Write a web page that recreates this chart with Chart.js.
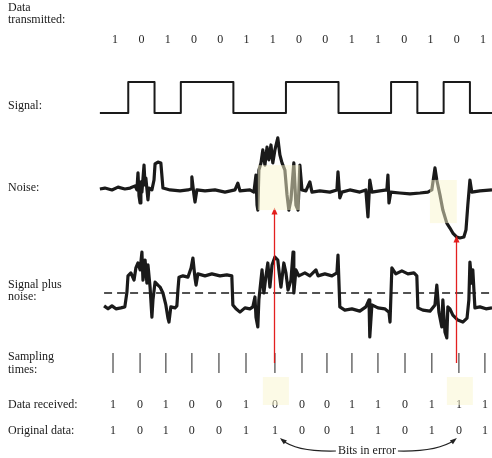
<!DOCTYPE html>
<html>
<head>
<meta charset="utf-8">
<script src="https://cdn.jsdelivr.net/npm/chart.js@4.4.0/dist/chart.umd.min.js"></script>
<style>
  body { margin: 0; background: #fff; }
  canvas { display: block; }
</style>
</head>
<body>
<canvas id="noise-chart" width="492" height="458"></canvas>
<script>
// time is measured in bit periods, bit k runs from k to k+1
const tView = [-3.88, 14.84]
const tStart = -0.08
const dataTransmitted = [1,0,1,0,0,1,1,0,0,1,1,0,1,0,1]
const signalLevels = [0,1,0,1,1,0,0,1,1,0,0,1,0,1,0]
const noise = [
  [-0.08,0],[0.11,0.03],[0.38,-0.03],[0.61,0.06],[0.87,0],[1.07,0.03],[1.26,0.10],[1.33,-0.03],
  [1.37,0.52],[1.41,-0.23],[1.45,-0.45],[1.48,0.23],[1.52,-0.10],[1.60,0.77],[1.64,0.13],[1.67,0.35],
  [1.75,-0.35],[1.79,0.03],[1.90,-0.03],[1.98,0.29],[2.02,0.81],[2.13,0.87],[2.24,0.84],[2.32,0.03],
  [2.59,-0.03],[2.97,-0.06],[3.27,-0.03],[3.39,0],[3.42,0.39],[3.50,-0.19],[3.54,-0.42],[3.61,-0.03],
  [3.92,-0.06],[4.30,-0.03],[4.68,-0.10],[5.06,-0.03],[5.17,0.19],[5.25,-0.06],[5.63,-0.03],[5.78,-0.10],
  [5.86,0.45],[5.90,-0.52],[5.93,-0.68],[5.97,0.61],[6.05,0.84],[6.12,1.26],[6.20,0.77],[6.28,1.35],
  [6.35,0.94],[6.43,1.42],[6.50,0.84],[6.58,1.26],[6.69,1.65],[6.77,1.10],[6.85,0.84],[6.96,0.61],
  [7.04,-0.19],[7.11,-0.68],[7.19,-0.35],[7.30,0.84],[7.38,-0.52],[7.46,-0.68],[7.53,0.77],[7.61,-0.03],
  [7.76,-0.06],[7.91,0.23],[7.99,-0.10],[8.29,-0.06],[8.67,-0.10],[8.94,-0.03],[8.98,0.55],[9.05,-0.29],
  [9.13,-0.10],[9.43,-0.03],[9.81,-0.10],[10.04,-0.03],[10.12,-0.90],[10.19,0.29],[10.27,-0.10],[10.57,-0.06],
  [10.84,-0.03],[10.88,0.45],[10.92,-0.45],[10.99,-0.10],[11.33,-0.13],[11.72,-0.16],[12.10,-0.13],[12.40,-0.10],
  [12.55,-0.03],[12.67,0.68],[12.74,0.29],[12.86,-0.19],[12.97,-0.68],[13.12,-1.10],[13.24,-1.26],[13.35,-1.42],
  [13.50,-1.55],[13.62,-1.58],[13.77,-1.55],[13.85,-1.32],[13.92,-0.52],[14.00,0.29],[14.07,-0.10],[14.38,-0.06],
  [14.84,-0.03]
]
const signalPlusNoise = [
  [0.08,0.11],[0.23,0.02],[0.38,0.11],[0.53,0.02],[0.72,0.05],[0.87,0.08],[0.95,0.53],[0.99,1.02],
  [1.10,1.11],[1.22,0.89],[1.29,1.26],[1.37,1.41],[1.45,1.20],[1.52,1.74],[1.56,0.89],[1.64,1.50],
  [1.71,0.80],[1.75,1.35],[1.83,0.68],[1.90,-0.23],[1.94,0.29],[2.02,0.83],[2.13,0.74],[2.21,0.68],
  [2.32,0.50],[2.43,0.14],[2.51,-0.26],[2.55,-0.38],[2.62,0.08],[2.78,0.05],[2.85,0.11],[2.89,0.59],
  [2.93,0.98],[3.08,1.02],[3.27,0.98],[3.39,1.26],[3.46,1.56],[3.54,0.95],[3.58,0.74],[3.65,1.08],
  [3.92,1.02],[4.18,1.08],[4.49,1.02],[4.75,1.05],[4.94,1.02],[4.98,0.14],[5.10,0.02],[5.25,-0.08],
  [5.44,0.05],[5.63,0.02],[5.74,0.08],[5.82,0.38],[5.86,-0.23],[5.93,-0.53],[5.97,0.29],[6.09,1.20],
  [6.16,0.50],[6.24,1.02],[6.31,1.41],[6.39,0.68],[6.47,1.35],[6.58,1.59],[6.69,1.50],[6.73,1.20],
  [6.81,0.68],[6.92,1.41],[7.00,1.11],[7.08,0.59],[7.19,0.89],[7.27,1.74],[7.30,0.50],[7.38,1.20],
  [7.49,1.02],[7.72,1.11],[7.91,1.02],[8.14,1.20],[8.22,1.02],[8.48,1.08],[8.75,1.02],[8.94,1.11],
  [8.98,1.65],[9.05,0.08],[9.24,-0.02],[9.51,0.02],[9.81,-0.05],[10.04,0.08],[10.16,0.29],[10.19,-0.83],
  [10.27,0.14],[10.50,0.05],[10.76,0.02],[10.92,-0.08],[10.96,-0.38],[11.03,1.26],[11.18,1.08],[11.41,1.17],
  [11.64,1.08],[11.87,1.11],[11.98,1.02],[12.02,0.05],[12.21,-0.02],[12.48,-0.05],[12.67,0.14],[12.74,0.74],
  [12.82,-0.08],[12.93,-0.53],[12.97,0.29],[13.05,-0.68],[13.12,-0.86],[13.16,0.08],[13.24,0.02],[13.35,-0.17],
  [13.54,-0.32],[13.73,-0.38],[13.89,-0.26],[13.96,0.29],[14.00,1.44],[14.07,0.80],[14.11,1.20],[14.19,0.05],
  [14.38,0.08],[14.61,0.02],[14.84,0.05]
]
const threshold = 0.5
const samplingTimes = [0.42,1.45,2.43,3.42,4.45,5.48,6.58,7.61,8.56,9.51,10.50,11.53,12.55,13.58,14.57]
const dataReceived = [1,0,1,0,0,1,0,0,0,1,1,0,1,1,1]
const originalData = [1,0,1,0,0,1,1,0,0,1,1,0,1,0,1]
const errorBits = [6, 13]
const errorNoiseLevel = [-0.6, -1.5]
const noiseMarks = [[5.93, 7.53, 0.77, -0.68], [12.48, 13.5, 0.29, -1.1]]

const H = 458
// y axis whose value vTop sits at pixel pTop and vBot at pixel pBot
function band(vTop, pTop, vBot, pBot) {
    const k = (pBot - pTop) / (vTop - vBot)
    const max = vTop + pTop / k
    return { display: false, min: max - H / k, max: max }
}

const xy = arr => arr.map(p => ({ x: p[0], y: p[1] }))
const signalPoints = signalLevels.map((v, i) => ({ x: i === 0 ? tStart : i, y: v }))
signalPoints.push({ x: tView[1], y: signalLevels[signalLevels.length - 1] })
const samplePoints = samplingTimes.flatMap(t => [{ x: t, y: 0 }, { x: t, y: 1 }, { x: t, y: null }])

const serif = '"Liberation Serif", "DejaVu Serif", serif'
const ink = '#1a1a1a'
const mark = 'rgba(250,245,205,0.5)'

function arrowHead(ctx, x, y, ang, len, wid) {
    ctx.beginPath()
    ctx.moveTo(x, y)
    ctx.lineTo(x - len * Math.cos(ang) + wid * Math.sin(ang), y - len * Math.sin(ang) - wid * Math.cos(ang))
    ctx.lineTo(x - len * Math.cos(ang) - wid * Math.sin(ang), y - len * Math.sin(ang) + wid * Math.cos(ang))
    ctx.closePath()
    ctx.fill()
}

const figureText = {
    id: 'figureText',
    afterDatasetsDraw(chart) {
        const { ctx, scales } = chart
        const x = scales.x
        ctx.save()
        ctx.fillStyle = ink
        ctx.textBaseline = 'middle'
        ctx.font = '12px ' + serif
        const labels = [['Data', 8], ['transmitted:', 20], ['Signal:', 106], ['Noise:', 188],
            ['Signal plus', 285], ['noise:', 297], ['Sampling', 357], ['times:', 370],
            ['Data received:', 405], ['Original data:', 431]]
        labels.forEach(l => ctx.fillText(l[0], 8, l[1]))

        ctx.textAlign = 'center'
        ctx.fillStyle = '#262626'
        dataTransmitted.forEach((b, i) => ctx.fillText(b, x.getPixelForValue(i + 0.5), 40))
        dataReceived.forEach((b, i) => ctx.fillText(b, x.getPixelForValue(samplingTimes[i]), 405))
        originalData.forEach((b, i) => ctx.fillText(b, x.getPixelForValue(samplingTimes[i]), 431))

        // red arrows from the sample up to the noise burst
        ctx.strokeStyle = 'rgba(225,20,20,0.95)'
        ctx.fillStyle = 'rgba(225,20,20,0.95)'
        ctx.lineWidth = 1.3
        errorBits.forEach((b, i) => {
            const px = Math.round(x.getPixelForValue(samplingTimes[b])) - 0.5 - i * 2
            const y0 = scales.ys.getPixelForValue(0.5)
            const y1 = scales.yn.getPixelForValue(errorNoiseLevel[i])
            ctx.beginPath()
            ctx.moveTo(px, y0)
            ctx.lineTo(px, y1 + 5)
            ctx.stroke()
            arrowHead(ctx, px, y1, -Math.PI / 2, 7, 3)
        })

        // "Bits in error" with curved arrows
        const xa = x.getPixelForValue(samplingTimes[errorBits[0]])
        const xb = x.getPixelForValue(samplingTimes[errorBits[1]])
        const mid = (xa + xb) / 2
        ctx.fillStyle = ink
        ctx.fillText('Bits in error', mid, 451)
        ctx.strokeStyle = '#222'
        ctx.lineWidth = 1.1
        ctx.beginPath()
        ctx.moveTo(mid - 31, 451)
        ctx.quadraticCurveTo(xa + 22, 452, xa + 7, 440)
        ctx.stroke()
        ctx.fillStyle = '#222'
        arrowHead(ctx, xa + 5, 438, Math.atan2(-12, -15), 7, 2.5)
        ctx.beginPath()
        ctx.moveTo(mid + 31, 451)
        ctx.quadraticCurveTo(xb - 22, 452, xb - 4, 440)
        ctx.stroke()
        arrowHead(ctx, xb - 2, 438, Math.atan2(-12, 15), 7, 2.5)
        ctx.restore()
    },
    afterDraw(chart) {
        const { ctx, scales } = chart
        const x = scales.x
        ctx.save()
        ctx.fillStyle = mark
        noiseMarks.forEach(m => {
            const x0 = x.getPixelForValue(m[0]), x1 = x.getPixelForValue(m[1])
            const y0 = scales.yn.getPixelForValue(m[2]), y1 = scales.yn.getPixelForValue(m[3])
            ctx.fillRect(x0, y0, x1 - x0, y1 - y0)
        })
        errorBits.forEach(b => {
            const c = x.getPixelForValue(samplingTimes[b])
            ctx.fillRect(c - 12, 377, 26, 28)
        })
        ctx.restore()
    }
}

new Chart(document.querySelector('#noise-chart'), {
    type: 'line',
    data: {
        datasets: [
            { data: signalPoints, yAxisID: 'yg', stepped: true, borderColor: ink, borderWidth: 2 },
            { data: xy(noise), yAxisID: 'yn', borderColor: ink, borderWidth: 3.2 },
            { data: xy(signalPlusNoise), yAxisID: 'yp', borderColor: ink, borderWidth: 3.2 },
            { data: [{ x: 0.08, y: threshold }, { x: tView[1], y: threshold }], yAxisID: 'yp',
              borderColor: ink, borderWidth: 1.7, borderDash: [8, 5] },
            { data: samplePoints, yAxisID: 'ys', borderColor: '#555', borderWidth: 1.3, spanGaps: false }
        ]
    },
    options: {
        responsive: false,
        animation: false,
        elements: {
            point: { radius: 0 },
            line: { tension: 0, borderJoinStyle: 'round', borderCapStyle: 'butt' }
        },
        layout: { padding: 0 },
        plugins: { legend: { display: false }, tooltip: { enabled: false } },
        scales: {
            x: { type: 'linear', display: false, min: tView[0], max: tView[1] },
            yg: band(1, 82, 0, 113),
            yn: band(1, 158, 0, 189),
            yp: band(1, 276.5, 0, 309.5),
            ys: band(1, 353, 0, 373)
        }
    },
    plugins: [figureText]
})
</script>
</body>
</html>
